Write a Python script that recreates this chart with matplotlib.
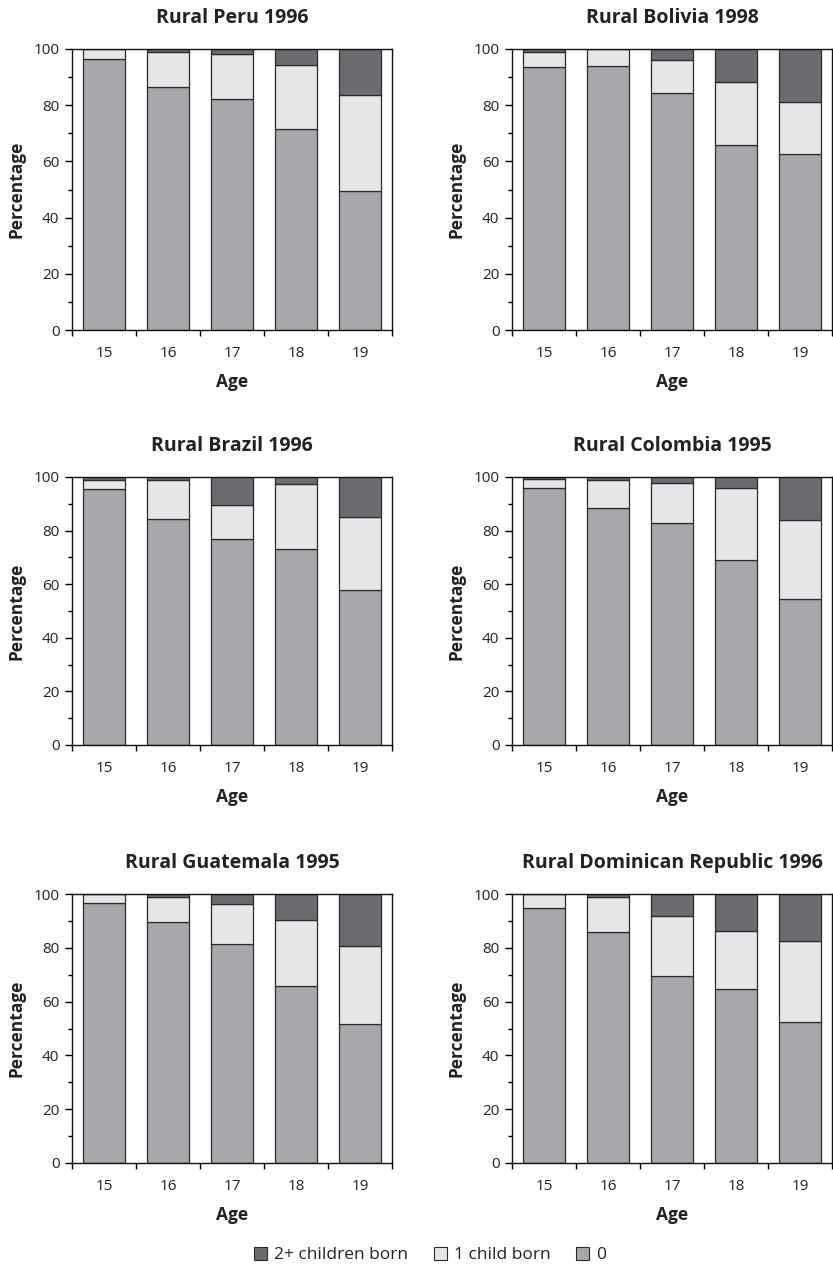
import matplotlib.pyplot as plt
from matplotlib.patches import Patch
from matplotlib.ticker import MultipleLocator, FixedLocator, NullFormatter

plt.rcParams['font.family'] = ['Open Sans', 'DejaVu Sans']

ages = ['15', '16', '17', '18', '19']
titulos = ['Rural Peru 1996', 'Rural Bolivia 1998',
           'Rural Brazil 1996', 'Rural Colombia 1995',
           'Rural Guatemala 1995', 'Rural Dominican Republic 1996']

# percentage with 0, 1 and 2+ children born, per age 15..19
cero = [
    [96.5, 86.5, 82.3, 71.5, 49.5],
    [93.5, 94.0, 84.5, 66.0, 62.5],
    [95.5, 84.5, 77.0, 73.0, 58.0],
    [96.0, 88.3, 83.0, 69.0, 54.5],
    [96.5, 89.5, 81.3, 65.7, 51.5],
    [94.7, 86.0, 69.5, 64.7, 52.5],
]
uno = [
    [3.5, 12.5, 16.0, 22.8, 34.2],
    [5.5, 6.0, 11.7, 22.2, 18.8],
    [3.5, 14.5, 12.5, 24.5, 27.0],
    [3.3, 10.7, 14.8, 26.8, 29.3],
    [3.5, 9.5, 14.8, 24.7, 29.0],
    [5.3, 13.0, 22.3, 21.7, 30.0],
]
dos_mas = [
    [0.0, 1.0, 1.7, 5.7, 16.3],
    [1.0, 0.0, 3.8, 11.8, 18.7],
    [1.0, 1.0, 10.5, 2.5, 15.0],
    [0.7, 1.0, 2.2, 4.2, 16.2],
    [0.0, 1.0, 3.9, 9.6, 19.5],
    [0.0, 1.0, 8.2, 13.6, 17.5],
]

color_cero = '#a7a8ab'
color_uno = '#e5e6e7'
color_dos = '#6b6c6f'
borde = '#2a2a2a'

fig = plt.figure(figsize=(8.33, 12.73), dpi=100)

W, H = 833, 1273
lefts = [72, 512]
filas = [(49, 330), (477, 745), (894, 1163)]

for i in range(6):
    fila, col = divmod(i, 2)
    top, bot = filas[fila]
    ax = fig.add_axes([lefts[col] / W, 1 - bot / H, 320 / W, (bot - top) / H])
    x = range(len(ages))
    ax.bar(x, cero[i], width=0.67, color=color_cero, edgecolor=borde, linewidth=0.9)
    ax.bar(x, uno[i], width=0.67, bottom=cero[i], color=color_uno, edgecolor=borde, linewidth=0.9)
    base = [a + b for a, b in zip(cero[i], uno[i])]
    ax.bar(x, dos_mas[i], width=0.67, bottom=base, color=color_dos, edgecolor=borde, linewidth=0.9)

    ax.set_xlim(-0.5, 4.5)
    ax.set_ylim(0, 100)
    ax.yaxis.set_major_locator(MultipleLocator(20))
    ax.yaxis.set_minor_locator(MultipleLocator(10))
    ax.xaxis.set_major_locator(FixedLocator([-0.5, 0.5, 1.5, 2.5, 3.5, 4.5]))
    ax.xaxis.set_major_formatter(NullFormatter())
    ax.xaxis.set_minor_locator(FixedLocator(list(x)))
    ax.set_xticklabels(ages, minor=True)
    ax.tick_params(axis='x', which='minor', length=0, labelsize=11, pad=11.5, labelcolor='#222222')
    ax.tick_params(axis='x', which='major', length=4, width=1)
    ax.tick_params(axis='y', which='major', length=5, width=1, labelsize=11, pad=4, labelcolor='#222222')
    ax.tick_params(axis='y', which='minor', length=3, width=1)
    for s in ax.spines.values():
        s.set_linewidth(1)
        s.set_color('#111111')

    ax.set_title(titulos[i], fontsize=14, fontweight='bold', pad=19, color='#222222')
    ax.set_xlabel('Age', fontsize=12.5, fontweight='bold', labelpad=9, color='#222222')
    ax.set_ylabel('Percentage', fontsize=12.5, fontweight='bold', labelpad=6, color='#222222')

handles = [Patch(facecolor=color_dos, edgecolor=borde, linewidth=0.8),
           Patch(facecolor=color_uno, edgecolor=borde, linewidth=0.8),
           Patch(facecolor=color_cero, edgecolor=borde, linewidth=0.8)]
fig.legend(handles, ['2+ children born', '1 child born', '0'], loc='center',
           bbox_to_anchor=(430 / W, 1 - 1255 / H), ncol=3, frameon=False,
           fontsize=12.5, handlelength=0.75, handleheight=0.75, handletextpad=0.4,
           columnspacing=1.5, labelcolor='#222222')

fig.savefig('out.png', dpi=100)
